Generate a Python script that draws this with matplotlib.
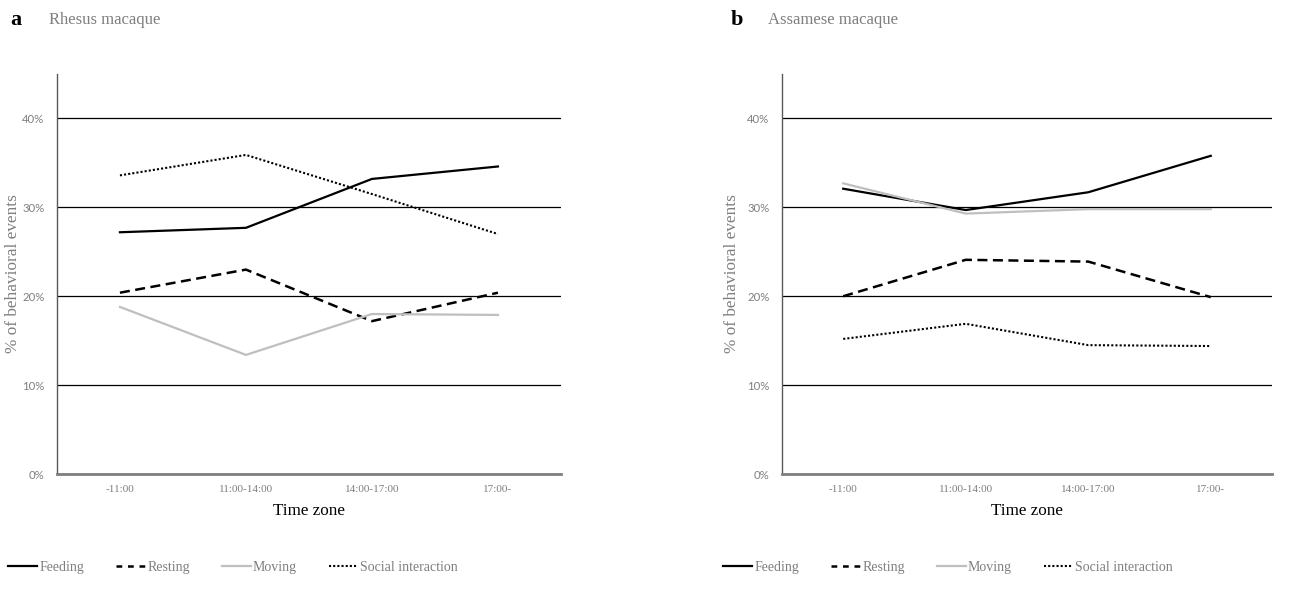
import matplotlib
matplotlib.use("Agg")
import matplotlib.pyplot as plt
from matplotlib.lines import Line2D
from matplotlib.ticker import FuncFormatter

# time-of-day bins and the share of each behaviour (%)
time_zones = ["-11:00", "11:00-14:00", "14:00-17:00", "17:00-"]

rhesus_feeding = [27.2, 27.7, 33.2, 34.6]
rhesus_resting = [20.4, 23.0, 17.2, 20.4]
rhesus_moving = [18.8, 13.4, 18.0, 17.9]
rhesus_social = [33.6, 35.9, 31.5, 27.0]

assamese_feeding = [32.1, 29.7, 31.7, 35.8]
assamese_resting = [20.0, 24.1, 23.9, 19.9]
assamese_moving = [32.7, 29.3, 29.8, 29.8]
assamese_social = [15.2, 16.9, 14.5, 14.4]

SERIF = ["Liberation Serif", "DejaVu Serif"]
SANS = ["Lato", "Liberation Sans", "DejaVu Sans"]
GREY = "#7f7f7f"

styles = {
    "Feeding": dict(color="black", lw=1.6, ls="-"),
    "Resting": dict(color="black", lw=1.8, ls=(0, (4, 2.2))),
    "Moving": dict(color="#bfbfbf", lw=1.6, ls="-"),
    "Social interaction": dict(color="black", lw=1.5, ls=(0, (1, 1))),
}
# shorter dashes for the legend keys
legend_styles = dict(styles)
legend_styles["Resting"] = dict(color="black", lw=1.8, ls=(0, (2.3, 2.3)))


def draw_panel(fig, rect, series, letter, name, letter_x, name_x, ylab_x,
               legend_x):
    ax = fig.add_axes(rect)
    x = list(range(len(time_zones)))
    for label, values in series.items():
        ax.plot(x, values, label=label, solid_joinstyle="round",
                dash_capstyle="butt", **styles[label])

    ax.set_xlim(-0.5, len(time_zones) - 0.5)
    ax.set_ylim(0, 45)
    ax.set_yticks([0, 10, 20, 30, 40])
    ax.yaxis.set_major_formatter(FuncFormatter(lambda v, p: f"{v:.0f}%"))
    ax.set_xticks(x)
    ax.set_xticklabels(time_zones, family=SERIF, fontsize=8, color=GREY)
    for t in ax.get_yticklabels():
        t.set_family(SANS)
        t.set_fontsize(8.2)
        t.set_color(GREY)
    ax.tick_params(axis="both", length=0)
    ax.tick_params(axis="y", pad=9)
    ax.tick_params(axis="x", pad=8)

    ax.yaxis.grid(True, color="black", lw=0.9)
    ax.set_axisbelow(True)
    for s in ["top", "right"]:
        ax.spines[s].set_visible(False)
    ax.spines["left"].set_color("#595959")
    ax.spines["left"].set_linewidth(1.0)
    ax.spines["bottom"].set_color("#7f7f7f")
    ax.spines["bottom"].set_linewidth(2.0)

    ax.set_xlabel("Time zone", family=SERIF, fontsize=12.3, color="black")
    ax.xaxis.set_label_coords(0.5, -0.072)
    ax.set_ylabel("% of behavioral events", family=SERIF, fontsize=12.4,
                  color=GREY, va="center")
    ax.yaxis.set_label_coords(ylab_x, 0.5)

    fig.text(letter_x, 0.967, letter, family=SERIF, fontsize=16,
             fontweight="bold", ha="center", va="center")
    fig.text(name_x, 0.967, name, family=SERIF, fontsize=12, color=GREY,
             ha="left", va="center")

    handles = [Line2D([], [], dash_capstyle="butt", **legend_styles[k])
               for k in series]
    leg = ax.legend(handles, list(series), loc="center",
                    bbox_to_anchor=(legend_x, 0.064),
                    bbox_transform=fig.transFigure, ncol=4, frameon=False,
                    handlelength=2.1, handletextpad=0.15, columnspacing=2.3,
                    prop={"family": SERIF, "size": 10})
    for t in leg.get_texts():
        t.set_color(GREY)
    return ax


fig = plt.figure(figsize=(13, 6.06), dpi=100)

draw_panel(fig, [0.0438, 0.2178, 0.3877, 0.660],
           {"Feeding": rhesus_feeding, "Resting": rhesus_resting,
            "Moving": rhesus_moving, "Social interaction": rhesus_social},
           "a", "Rhesus macaque", 16 / 1300, 49 / 1300, -0.087, 233 / 1300)

draw_panel(fig, [0.6015, 0.2178, 0.3770, 0.660],
           {"Feeding": assamese_feeding, "Resting": assamese_resting,
            "Moving": assamese_moving, "Social interaction": assamese_social},
           "b", "Assamese macaque", 737 / 1300, 768 / 1300, -0.101,
           948 / 1300)

fig.savefig("out.png", dpi=100)
